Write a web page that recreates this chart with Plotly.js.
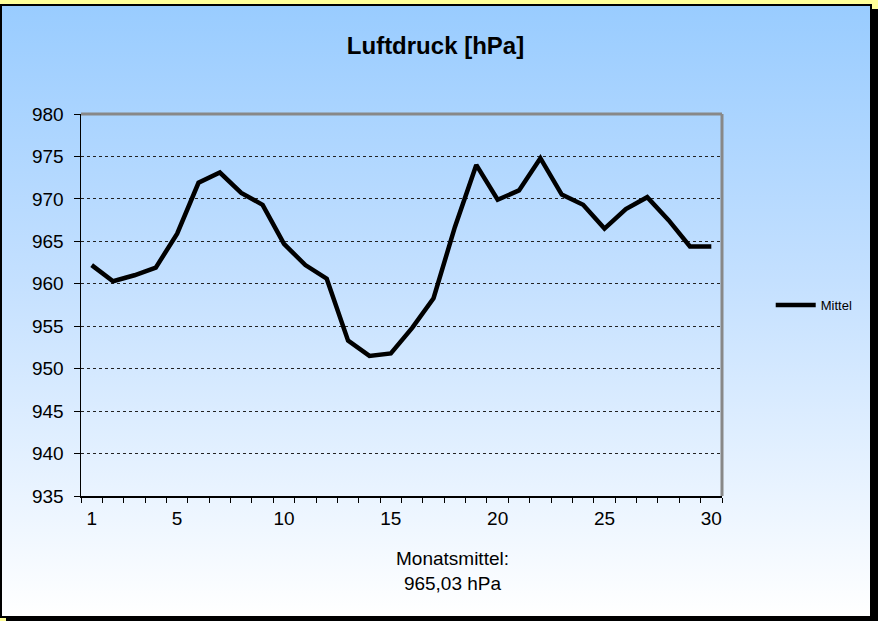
<!DOCTYPE html>
<html>
<head>
<meta charset="utf-8">
<script src="https://cdn.plot.ly/plotly-3.0.1.min.js"></script>
<style>
  html, body { margin:0; padding:0; width:878px; height:621px; overflow:hidden; background:#ffff99; }
  #frame { position:absolute; left:0; top:4px; width:868px; height:610px; border:2px solid #000;
           background:linear-gradient(to bottom, #99ccff 0%, #c4e0ff 45%, #ffffff 100%);
           box-shadow:6px 5px 0 #000; }
  #chart { position:absolute; left:0; top:0; width:878px; height:621px; }
</style>
</head>
<body>
<div id="frame"></div>
<div id="chart"></div>
<script>
const days = [1,2,3,4,5,6,7,8,9,10,11,12,13,14,15,16,17,18,19,20,21,22,23,24,25,26,27,28,29,30];
const mittel = [962.2,960.3,961.0,961.9,965.9,971.9,973.1,970.7,969.3,964.7,
                962.2,960.6,953.3,951.5,951.8,954.8,958.3,966.7,974.0,969.9,
                971.0,974.8,970.5,969.3,966.5,968.8,970.2,967.5,964.4,964.4];
const xTickVals = [1,5,10,15,20,25,30];
const yTicks = [935,940,945,950,955,960,965,970,975,980];
const seriesName = 'Mittel';
const chartTitle = 'Luftdruck [hPa]';
const footer = 'Monatsmittel:<br>965,03 hPa';

const font = 'Liberation Sans, Arial, sans-serif';

Plotly.newPlot('chart', [{
  x: days, y: mittel, type: 'scatter', mode: 'lines', name: seriesName,
  line: {color: '#000', width: 4.5}, showlegend: true
}], {
  width: 878, height: 621,
  paper_bgcolor: 'rgba(0,0,0,0)', plot_bgcolor: 'rgba(0,0,0,0)',
  margin: {l: 81, r: 156, t: 114, b: 125},
  font: {family: font, color: '#000', size: 19},
  title: {text: '<b>' + chartTitle + '</b>', font: {family: font, size: 24, color: '#000'},
          x: 0.496, xanchor: 'center', y: 0.927, yanchor: 'middle'},
  xaxis: {
    range: [0.5, 30.5], tickmode: 'array', tickvals: xTickVals, ticks: '',
    showgrid: false, zeroline: false, showline: true, linecolor: '#000', linewidth: 1.5,
    tickfont: {size: 19}, ticklabelstandoff: 5,
    minor: {tick0: 0.5, dtick: 1, ticks: 'outside', ticklen: 5, tickcolor: '#000', tickwidth: 1, showgrid: false}
  },
  yaxis: {
    range: [935, 980], tickmode: 'array', tickvals: yTicks, ticks: 'outside', ticklen: 6,
    tickcolor: '#000', tickwidth: 1, showline: true, linecolor: '#000', linewidth: 1.5,
    showgrid: true, gridcolor: '#222', griddash: 'dot', gridwidth: 1, zeroline: false,
    tickfont: {size: 19}, ticklabelstandoff: 6
  },
  legend: {x: 1.076, y: 0.5, xanchor: 'left', yanchor: 'middle', font: {size: 13},
           bgcolor: 'rgba(0,0,0,0)', itemwidth: 40},
  shapes: [
    {type: 'line', xref: 'paper', yref: 'paper', x0: 0, x1: 1, y0: 1, y1: 1, line: {color: '#888', width: 3}},
    {type: 'line', xref: 'paper', yref: 'paper', x0: 1, x1: 1, y0: 0, y1: 1, line: {color: '#888', width: 3}}
  ],
  annotations: [{
    text: footer, xref: 'paper', yref: 'paper', x: 0.579, y: -0.13, xanchor: 'center', yanchor: 'top',
    showarrow: false, font: {size: 19}, align: 'center'
  }]
}, {displayModeBar: false, staticPlot: true});
</script>
</body>
</html>
